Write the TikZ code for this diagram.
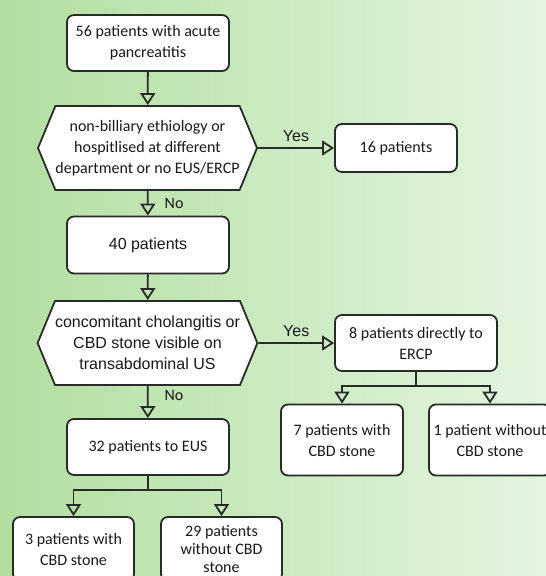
\documentclass[tikz,border=0pt]{standalone}
\usepackage{fontspec}
\setmainfont{Carlito}
\newfontfamily\arialfont{Liberation Sans}
\usepackage{tikz}
\usetikzlibrary{arrows.meta,shapes.symbols}
\definecolor{bgLeft}{RGB}{178,222,160}
\definecolor{bgRight}{RGB}{228,245,224}
\definecolor{lineGray}{RGB}{40,44,40}

\begin{document}
\begin{tikzpicture}
[x=1pt,y=-1pt,%
    boxDecorate/.style={shape=rectangle,rounded corners=7pt,draw=lineGray,line width=1.8pt,fill=white,text=black!90,align=center,inner sep=0pt,font=\fontsize{16}{21}\selectfont},%
    hexDecorate/.style={shape=signal,signal to=west and east,signal pointer angle=135,draw=lineGray,line width=1.8pt,fill=white,text=black!90,align=center,inner sep=0pt,minimum width=215pt,minimum height=84pt,font=\fontsize{16}{21}\selectfont},%
    lineDecorate/.style={lineGray,line width=1.8pt,-{Triangle[open,length=12pt,width=15pt]}},%
    labelDecorate/.style={text=black!90,inner sep=0pt,font=\fontsize{16}{21}\selectfont}]
    %% background
    \useasboundingbox (0,0) rectangle (546,576);
    \shade[left color=bgLeft,right color=bgRight] (0,0) rectangle (546,576);
    %% main column
    \node (allCases) at (148,43) [boxDecorate,minimum width=162pt,minimum height=56pt] {56 patients with acute\\pancreatitis};
    \node (exclQ) at (147.5,148) [hexDecorate] {non-billiary ethiology or\\hospitlised at different\\department or no EUS/ERCP};
    \node (excluded) at (396,148) [boxDecorate,minimum width=122pt,minimum height=48pt] {16 patients};
    \node (included) at (148,245) [boxDecorate,minimum width=162pt,minimum height=57pt,font=\arialfont\fontsize{16}{21}\selectfont] {40 patients};
    \node (ercpQ) at (147.5,343) [hexDecorate,font=\arialfont\fontsize{16}{21}\selectfont] {concomitant cholangitis or\\CBD stone visible on\\transabdominal US};
    \node (toERCP) at (416,343) [boxDecorate,minimum width=162pt,minimum height=56pt] {8 patients directly to\\ERCP};
    \node (toEUS) at (148,447) [boxDecorate,minimum width=162pt,minimum height=56pt] {32 patients to EUS};
    %% outcome boxes
    \node (ercpStone) at (342,440) [boxDecorate,minimum width=122pt,minimum height=71pt] {7 patients with\\CBD stone};
    \node (ercpNoStone) at (490,440) [boxDecorate,minimum width=122pt,minimum height=71pt] {1 patient without\\CBD stone};
    \node (eusStone) at (73.5,549) [boxDecorate,minimum width=121pt,minimum height=64pt] {3 patients with\\CBD stone};
    \node (eusNoStone) at (221.5,549) [boxDecorate,minimum width=121pt,minimum height=64pt,font=\fontsize{16}{18}\selectfont] {29 patients\\without CBD\\stone};
    \coordinate (ercpSplit) at (416,386);
    \coordinate (eusSplit) at (148,490);
    %% edges or lines
    \path\foreach \startnode/\endnode in {allCases/exclQ, included/ercpQ}
    {
        (\startnode) edge[lineDecorate] (\endnode)
    };
    \draw[lineDecorate] (exclQ) -- node[labelDecorate,above=5pt,font=\arialfont\fontsize{16}{21}\selectfont] {Yes} (excluded);
    \draw[lineDecorate] (exclQ) -- node[labelDecorate,right=16pt] {No} (included);
    \draw[lineDecorate] (ercpQ) -- node[labelDecorate,above=5pt,font=\arialfont\fontsize{16}{21}\selectfont] {Yes} (toERCP);
    \draw[lineDecorate] (ercpQ) -- node[labelDecorate,right=16pt,pos=0.3] {No} (toEUS);
    \draw[lineGray,line width=1.8pt] (toERCP) -- (ercpSplit);
    \draw[lineGray,line width=1.8pt] (toEUS) -- (eusSplit);
    \foreach \endnode in {ercpStone, ercpNoStone}
        \draw[lineDecorate] (ercpSplit) -| (\endnode);
    \foreach \endnode in {eusStone, eusNoStone}
        \draw[lineDecorate] (eusSplit) -| (\endnode);
\end{tikzpicture}
\end{document}
